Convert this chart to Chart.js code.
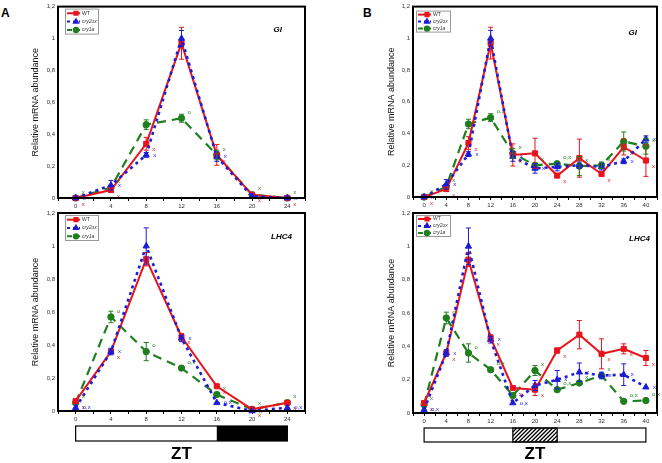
<!DOCTYPE html>
<html><head><meta charset="utf-8">
<script src="https://cdn.jsdelivr.net/npm/chart.js@4.4.0/dist/chart.umd.min.js"></script>
<style>
body{margin:0;background:#fff;width:662px;height:463px;position:relative;overflow:hidden;font-family:Arial,"Liberation Sans",sans-serif}
canvas{position:absolute}
.pl{position:absolute;font-weight:bold;font-size:12px;color:#000}
</style></head><body>
<div class="pl" style="left:1px;top:6px">A</div>
<div class="pl" style="left:363px;top:6px">B</div>
<canvas id="cA1" width="330" height="212" style="left:0;top:0"></canvas>
<canvas id="cB1" width="332" height="212" style="left:330px;top:0"></canvas>
<canvas id="cA2" width="330" height="258" style="left:0;top:205px"></canvas>
<canvas id="cB2" width="332" height="258" style="left:330px;top:205px"></canvas>
<script>
// ---------- data ----------
const seriesNames = ['WT', 'cry2ox', 'cry1a'];
const ztA = [0, 4, 8, 12, 16, 20, 24];
const ztB = [0, 4, 8, 12, 16, 20, 24, 28, 32, 36, 40];
const yTicks = [0, 0.2, 0.4, 0.6, 0.8, 1, 1.2];

// GI, 24 h (panel A)
const giA_WT      = [0, 0.05, 0.34, 0.97, 0.27, 0.02, 0.0];
const giA_WT_err  = [0.005, 0.015, 0.04, 0.1, 0.065, 0.01, 0.005];
const giA_cry2ox  = [0, 0.08, 0.27, 1.0, 0.26, 0.01, 0.0];
const giA_cry2ox_err = [0, 0.03, 0.015, 0.05, 0.03, 0.005, 0];
const giA_cry1a   = [0, 0.065, 0.46, 0.50, 0.27, 0.02, 0.0];
const giA_cry1a_err = [0, 0.01, 0.03, 0.025, 0.03, 0, 0];
const giA_WT_lab     = ['x','x','x','','x','x','x'];
const giA_cry2ox_lab = ['x','x','x','','x','x','x'];
const giA_cry1a_lab  = ['x','x','','o','x','x','x'];

// GI, 40 h (panel B)
const giB_WT      = [0, 0.05, 0.34, 0.97, 0.265, 0.275, 0.135, 0.245, 0.145, 0.315, 0.23];
const giB_WT_err  = [0.005, 0.015, 0.04, 0.1, 0.07, 0.095, 0.01, 0.12, 0.01, 0.05, 0.1];
const giB_cry2ox  = [0, 0.08, 0.27, 1.0, 0.255, 0.18, 0.19, 0.2, 0.19, 0.225, 0.365];
const giB_cry2ox_err = [0, 0.03, 0.015, 0.05, 0.03, 0.03, 0.025, 0.02, 0.02, 0.015, 0.02];
const giB_cry1a   = [0, 0.065, 0.46, 0.50, 0.275, 0.2, 0.21, 0.195, 0.2, 0.35, 0.32];
const giB_cry1a_err = [0, 0.01, 0.03, 0.025, 0.03, 0.01, 0.01, 0.06, 0.02, 0.06, 0.05];
const giB_WT_lab     = ['x','x','x','','x','','x','x','x','x','x'];
const giB_cry2ox_lab = ['x','x','x','','x','x','','x','','x','x'];
const giB_cry1a_lab  = ['x','x','','o,x','x','x','o,x','x','x','','x'];

// LHC4, 24 h (panel A)
const lhcA_WT      = [0.06, 0.36, 0.92, 0.45, 0.15, 0.01, 0.05];
const lhcA_WT_err  = [0.01, 0.01, 0.04, 0.02, 0.01, 0.005, 0.01];
const lhcA_cry2ox  = [0.02, 0.36, 1.0, 0.44, 0.05, 0.0, 0.02];
const lhcA_cry2ox_err = [0.01, 0.02, 0.11, 0.02, 0.01, 0, 0.005];
const lhcA_cry1a   = [0.05, 0.57, 0.36, 0.26, 0.1, 0.01, 0.05];
const lhcA_cry1a_err = [0.01, 0.035, 0.055, 0.01, 0.01, 0, 0.005];
const lhcA_WT_lab     = ['x','x','','x','x','x','x'];
const lhcA_cry2ox_lab = ['o,x','x','','x','o,x','x','o,x'];
const lhcA_cry1a_lab  = ['x','o','o','o,x','x','x','x'];

// LHC4, 40 h (panel B)
const lhcB_WT      = [0.06, 0.36, 0.92, 0.45, 0.15, 0.14, 0.375, 0.47, 0.355, 0.385, 0.33];
const lhcB_WT_err  = [0.01, 0.01, 0.04, 0.02, 0.01, 0.035, 0.015, 0.085, 0.09, 0.03, 0.045];
const lhcB_cry2ox  = [0.02, 0.36, 1.0, 0.44, 0.06, 0.165, 0.2, 0.245, 0.225, 0.23, 0.155];
const lhcB_cry2ox_err = [0.01, 0.02, 0.11, 0.02, 0.01, 0.03, 0.055, 0.055, 0.02, 0.065, 0.01];
const lhcB_cry1a   = [0.05, 0.57, 0.36, 0.26, 0.105, 0.255, 0.14, 0.18, 0.225, 0.07, 0.075];
const lhcB_cry1a_err = [0.01, 0.035, 0.055, 0.01, 0.01, 0.03, 0.01, 0.01, 0.01, 0.005, 0.005];
const lhcB_WT_lab     = ['x','x','','x','x','x','x','x','x','x','x'];
const lhcB_cry2ox_lab = ['o,x','x','','x','o,x','','x','x','x','x','x'];
const lhcB_cry1a_lab  = ['x','o','o','o,x','','x','o,x','x','x','o,x','o,x'];

// light regimes
const darkA = [16, 24];   // night in 24 h LD
const nightB = [16, 24];  // subjective night (hatched)

// ---------- styles ----------
const COL = ['#e8141c', '#1c1cd6', '#1f7f1f'];
const STY = [
  {pointStyle:'rect', radius:3.6, dash:[], width:2, ldx:6, ldy:6},
  {pointStyle:'triangle', radius:3.6, dash:[3,4], width:2.6, ldx:7, ldy:0},
  {pointStyle:'circle', radius:3.2, dash:[9,6], width:2.2, ldx:6, ldy:-6}
];
Chart.defaults.font.family = 'Arial, "Liberation Sans", sans-serif';

function mkDatasets(xs, vals, errs, labs) {
  return vals.map((v, i) => ({
    label: seriesNames[i],
    data: xs.map((t, j) => ({x: t, y: v[j]})),
    err: errs[i], labs: labs[i],
    borderColor: COL[i], backgroundColor: COL[i],
    pointBackgroundColor: COL[i], pointBorderColor: COL[i],
    pointStyle: STY[i].pointStyle, pointRadius: STY[i].radius, pointBorderWidth: 1,
    borderWidth: STY[i].width, borderDash: STY[i].dash, borderCapStyle: 'butt',
    tension: 0, clip: false, order: [1, 0, 2][i]
  }));
}

const fmt = v => String(Math.round(v * 10) / 10).replace('.', ',');

const decor = {
  id: 'decor',
  afterDatasetsDraw(chart, args, o) {
    const {ctx, chartArea: a, scales: {x, y}} = chart;
    ctx.save();
    // error bars and letters
    chart.data.datasets.forEach((ds, i) => {
      ctx.strokeStyle = COL[i]; ctx.fillStyle = COL[i]; ctx.lineWidth = 1; ctx.setLineDash([]);
      ds.data.forEach((p, j) => {
        const px = x.getPixelForValue(p.x);
        const e = ds.err[j];
        if (e > 0.012) {
          const y0 = y.getPixelForValue(p.y - e), y1 = y.getPixelForValue(p.y + e);
          ctx.beginPath();
          ctx.moveTo(px, y0); ctx.lineTo(px, y1);
          ctx.moveTo(px - 2.5, y0); ctx.lineTo(px + 2.5, y0);
          ctx.moveTo(px - 2.5, y1); ctx.lineTo(px + 2.5, y1);
          ctx.stroke();
        }
        const t = ds.labs[j];
        if (t) {
          ctx.font = '6px Arial, "Liberation Sans", sans-serif';
          ctx.textAlign = 'left'; ctx.textBaseline = 'middle';
          ctx.fillText(t, px + STY[i].ldx, y.getPixelForValue(p.y) + STY[i].ldy);
        }
      });
    });
    // frame
    ctx.strokeStyle = '#000'; ctx.lineWidth = 2;
    ctx.strokeRect(a.left, a.top, a.right - a.left, a.bottom - a.top);
    // legend
    const L = o.legend, lx = a.left + L.dx, ly = a.top + L.dy;
    ctx.fillStyle = '#fff'; ctx.fillRect(lx, ly, L.w, L.h);
    ctx.strokeStyle = '#999'; ctx.lineWidth = 1; ctx.strokeRect(lx + 0.5, ly + 0.5, L.w, L.h);
    chart.data.datasets.forEach((ds, i) => {
      const yy = ly + L.h * (i + 0.5) / 3 + 0.5;
      ctx.strokeStyle = COL[i]; ctx.fillStyle = COL[i]; ctx.lineWidth = 2;
      ctx.setLineDash(i === 0 ? [] : (i === 1 ? [3, 3] : [5, 3]));
      ctx.beginPath(); ctx.moveTo(lx + 2, yy); ctx.lineTo(lx + 15, yy); ctx.stroke();
      ctx.setLineDash([]);
      Chart.helpers.drawPoint(ctx, {pointStyle: STY[i].pointStyle, radius: 2.2, borderWidth: 1, rotation: 0}, lx + 11, yy);
      ctx.fillStyle = '#333';
      ctx.font = (i ? 'italic ' : '') + '5px Arial, "Liberation Sans", sans-serif';
      ctx.textAlign = 'left'; ctx.textBaseline = 'middle';
      ctx.fillText(ds.label, lx + 17, yy);
    });
    // gene label
    ctx.fillStyle = '#000';
    ctx.font = 'italic bold 8px Arial, "Liberation Sans", sans-serif';
    ctx.textAlign = 'right'; ctx.textBaseline = 'middle';
    ctx.fillText(o.gene.text, a.right - o.gene.dx, a.top + o.gene.dy);
    // light / dark bar
    if (o.bar) {
      const B = o.bar, by = a.bottom + B.off, bh = B.h;
      const bx0 = x.getPixelForValue(B.range[0]), bx1 = x.getPixelForValue(B.range[1]);
      const dx0 = x.getPixelForValue(B.dark[0]), dx1 = x.getPixelForValue(B.dark[1]);
      ctx.fillStyle = '#fff'; ctx.fillRect(bx0, by, bx1 - bx0, bh);
      if (B.hatch) {
        ctx.save(); ctx.beginPath(); ctx.rect(dx0, by, dx1 - dx0, bh); ctx.clip();
        ctx.strokeStyle = '#000'; ctx.lineWidth = 1.3; ctx.beginPath();
        for (let k = dx0 - bh; k < dx1 + bh; k += 4) { ctx.moveTo(k, by + bh); ctx.lineTo(k + bh, by); }
        ctx.stroke(); ctx.restore();
        ctx.strokeStyle = '#000'; ctx.lineWidth = 1.2;
        ctx.strokeRect(dx0, by, dx1 - dx0, bh);
      } else {
        ctx.fillStyle = '#000'; ctx.fillRect(dx0, by, dx1 - dx0, bh);
      }
      ctx.strokeStyle = '#000'; ctx.lineWidth = 1.2;
      ctx.strokeRect(bx0, by, bx1 - bx0, bh);
    }
    ctx.restore();
  }
};

function make(id, xs, labelTicks, xmin, xmax, dsets, p) {
  return new Chart(document.getElementById(id), {
    type: 'line',
    data: {datasets: dsets},
    plugins: [decor],
    options: {
      responsive: false, animation: false, devicePixelRatio: 1,
      layout: {padding: {left: 0, right: p.right, top: p.top, bottom: 0}},
      plugins: {legend: {display: false}, tooltip: {enabled: false},
        decor: {legend: p.legend, gene: p.gene, bar: p.bar}},
      scales: {
        x: {
          type: 'linear', min: xmin, max: xmax,
          afterBuildTicks: s => { const t = []; for (let v = xmin; v <= xmax + 0.01; v += 2) t.push({value: v}); s.ticks = t; },
          ticks: {autoSkip: false, maxRotation: 0, font: {size: 6}, color: '#333', padding: 2,
            callback: v => labelTicks.includes(v) ? String(v) : ''},
          grid: {drawOnChartArea: false, drawTicks: true, tickLength: 3, color: '#000', lineWidth: 1},
          border: {display: true, color: '#000', width: 1},
          title: p.zt ? {display: true, text: 'ZT', color: '#000',
            font: {size: 17, weight: 'bold', lineHeight: 1}, padding: {top: 0, bottom: p.ztPad}} : {display: false},
          afterFit: s => { s.height = p.xh; }
        },
        y: {
          min: 0, max: 1.2,
          afterBuildTicks: s => { s.ticks = yTicks.map(v => ({value: v})); },
          ticks: {font: {size: 6}, color: '#333', padding: 3, callback: v => fmt(v)},
          grid: {display: false, drawTicks: false},
          border: {display: false},
          title: {display: true, text: 'Relative mRNA abundance', color: '#111',
            font: {size: 9}, padding: {top: p.ytp, bottom: 0}},
          afterFit: s => { s.width = p.yw; }
        }
      }
    }
  });
}

make('cA1', ztA, ztA, -2, 26,
  mkDatasets(ztA, [giA_WT, giA_cry2ox, giA_cry1a], [giA_WT_err, giA_cry2ox_err, giA_cry1a_err], [giA_WT_lab, giA_cry2ox_lab, giA_cry1a_lab]),
  {right: 25, top: 2, xh: 14, yw: 58, ytp: 30,
   legend: {dx: 7, dy: 2, w: 33, h: 25}, gene: {text: 'GI', dx: 23, dy: 23}});

make('cA2', ztA, ztA, -2, 26,
  mkDatasets(ztA, [lhcA_WT, lhcA_cry2ox, lhcA_cry1a], [lhcA_WT_err, lhcA_cry2ox_err, lhcA_cry1a_err], [lhcA_WT_lab, lhcA_cry2ox_lab, lhcA_cry1a_lab]),
  {right: 25, top: 8, xh: 52, yw: 58, ytp: 30, zt: true, ztPad: 0,
   legend: {dx: 7, dy: 2, w: 33, h: 25}, gene: {text: 'LHC4', dx: 13, dy: 24},
   bar: {range: [0, 24], dark: darkA, off: 15, h: 15, hatch: false}});

make('cB1', ztB, ztB, -2, 42,
  mkDatasets(ztB, [giB_WT, giB_cry2ox, giB_cry1a], [giB_WT_err, giB_cry2ox_err, giB_cry1a_err], [giB_WT_lab, giB_cry2ox_lab, giB_cry1a_lab]),
  {right: 3, top: 3, xh: 15, yw: 83, ytp: 56,
   legend: {dx: 3, dy: 4, w: 34, h: 21}, gene: {text: 'GI', dx: 20, dy: 26}});

make('cB2', ztB, ztB, -2, 42,
  mkDatasets(ztB, [lhcB_WT, lhcB_cry2ox, lhcB_cry1a], [lhcB_WT_err, lhcB_cry2ox_err, lhcB_cry1a_err], [lhcB_WT_lab, lhcB_cry2ox_lab, lhcB_cry1a_lab]),
  {right: 3, top: 8, xh: 50, yw: 83, ytp: 56, zt: true, ztPad: 0,
   legend: {dx: 3, dy: 2, w: 34, h: 21}, gene: {text: 'LHC4', dx: 7, dy: 26},
   bar: {range: [0, 40], dark: nightB, off: 15, h: 14, hatch: true}});
</script>
</body></html>
